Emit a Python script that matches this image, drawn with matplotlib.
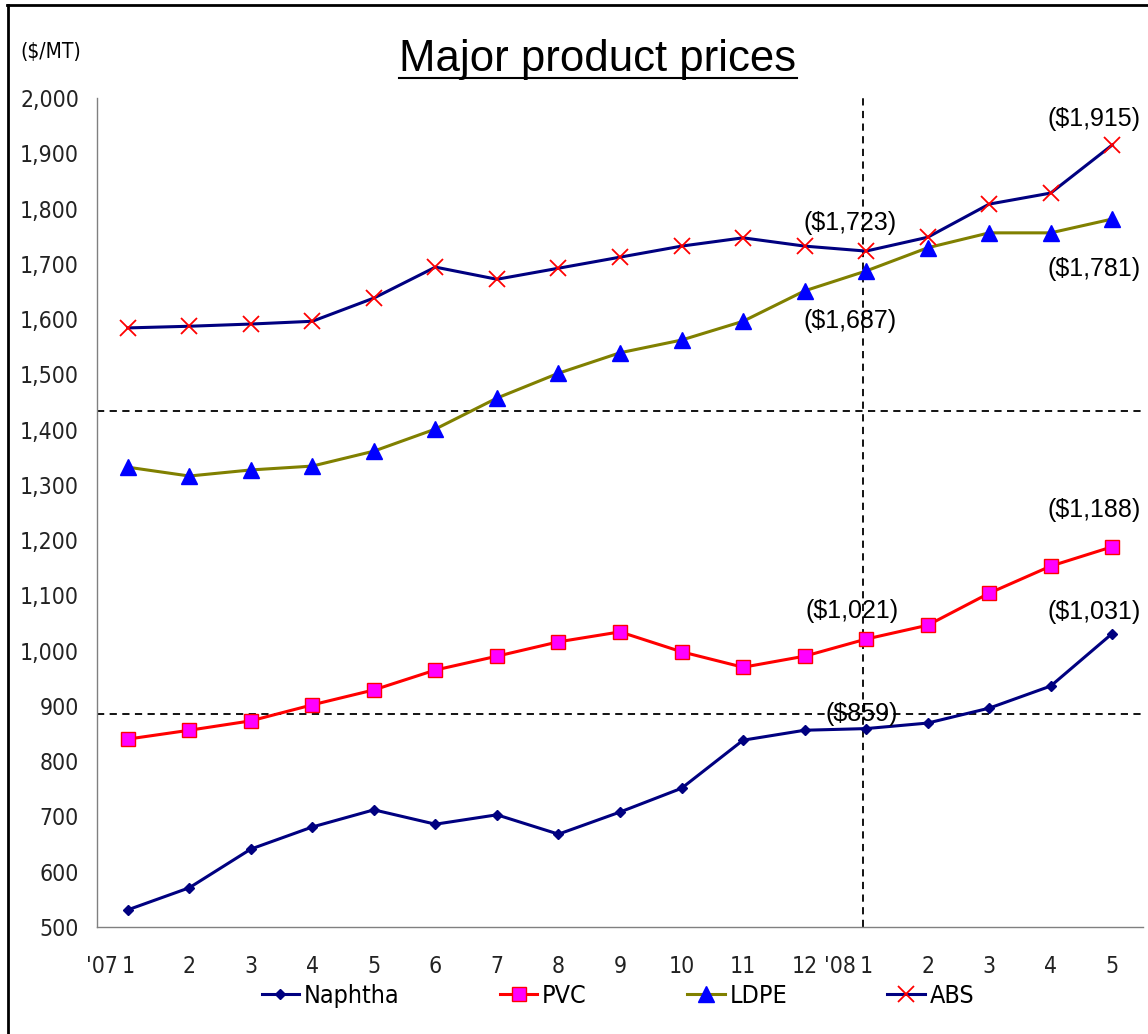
import matplotlib
matplotlib.use("Agg")
import matplotlib.pyplot as plt
from matplotlib.lines import Line2D
from matplotlib.transforms import ScaledTranslation, blended_transform_factory
from matplotlib import font_manager as fm

months = ["1", "2", "3", "4", "5", "6", "7", "8", "9", "10", "11", "12",
          "1", "2", "3", "4", "5"]
year_marks = {0: "'07", 12: "'08"}

naphtha = [531, 571, 641, 681, 712, 686, 703, 668, 708, 751, 838, 856,
           859, 869, 896, 936, 1031]
pvc = [840, 856, 873, 902, 929, 965, 990, 1016, 1034, 998, 970, 990,
       1021, 1046, 1104, 1153, 1188]
ldpe = [1332, 1316, 1327, 1334, 1361, 1401, 1457, 1502, 1539, 1562, 1596, 1651,
        1687, 1729, 1756, 1756, 1781]
abs_ = [1584, 1587, 1591, 1596, 1638, 1694, 1672, 1692, 1712, 1732, 1747, 1732,
        1723, 1748, 1808, 1828, 1915]

yticks = list(range(500, 2001, 100))
ref_lines = [1434, 885]
divider_index = 11.95

narrow = fm.FontProperties(family="DejaVu Sans", stretch="condensed", size=16.5)
regular = ["Liberation Sans", "DejaVu Sans"]

W, H = 1148, 1034
fig = plt.figure(figsize=(W / 100, H / 100), dpi=100)
ax = fig.add_axes([97 / W, (H - 927) / H, 1046 / W, (927 - 98) / H])

x = list(range(len(months)))
ax.plot(x, naphtha, color="#000080", lw=2.2, marker="D", ms=5.5,
        mfc="#000080", mec="#000080", label="Naphtha", zorder=3)
ax.plot(x, pvc, color="#FF0000", lw=2.2, marker="s", ms=10,
        mfc="#FF00FF", mec="#FF0000", mew=1, label="PVC", zorder=3)
ax.plot(x, ldpe, color="#808000", lw=2.2, marker="^", ms=12,
        mfc="#0000FF", mec="#0000FF", label="LDPE", zorder=3)
ax.plot(x, abs_, color="#000080", lw=2.2, marker="x", ms=12,
        mfc="#FF0000", mec="#FF0000", mew=1.3, label="ABS", zorder=3)

ax.set_xlim(-0.5, len(months) - 0.5)
ax.set_ylim(500, 2000)
ax.set_yticks(yticks)
ax.set_yticklabels([f"{v:,}" for v in yticks], fontproperties=narrow, color="#222222")
ax.set_xticks(x)
ax.set_xticklabels(months, fontproperties=narrow, color="#222222")
ax.tick_params(axis="both", length=0)
ax.tick_params(axis="y", pad=13)
ax.tick_params(axis="x", pad=20)
for s in ["top", "right"]:
    ax.spines[s].set_visible(False)
for s in ["left", "bottom"]:
    ax.spines[s].set_color("#808080")
    ax.spines[s].set_linewidth(1.0)

trans = blended_transform_factory(ax.transData, ax.transAxes)
for idx, yr in year_marks.items():
    ax.text(idx, 0, yr, transform=trans + ScaledTranslation(-10 / 100, -28 / 100, fig.dpi_scale_trans),
            ha="right", va="top", fontproperties=narrow, color="#222222")

for v in ref_lines:
    ax.axhline(v, color="black", lw=1.3, ls=(0, (4, 3)), zorder=2)
ax.axvline(divider_index, color="black", lw=1.3, ls=(0, (4, 3)), zorder=2)

def ann(idx, val, dx, dy):
    ax.annotate(f"(${val:,})", xy=(idx, val), xytext=(dx * 0.72, dy * 0.72),
                textcoords="offset points", ha="center", va="center",
                family=regular, fontsize=18, color="black", zorder=4)

last = len(months) - 1
ann(last, abs_[last], -18, 26)
ann(12, abs_[12], -16, 28)
ann(12, ldpe[12], -16, -50)
ann(last, ldpe[last], -18, -50)
ann(last, pvc[last], -18, 37)
ann(12, pvc[12], -14, 28)
ann(last, naphtha[last], -18, 22)
ann(12, naphtha[12], -4, 15)

unitprop = fm.FontProperties(family="DejaVu Sans", stretch="condensed", size=15)
fig.text(20 / W, 1 - 52 / H, "($/MT)", fontproperties=unitprop,
         ha="left", va="center")

t = fig.text(598 / W, 1 - 60 / H, "Major product prices", family=regular,
             fontsize=31.5, ha="center", va="center")

legprop = fm.FontProperties(family="DejaVu Sans", stretch="condensed", size=18)
leg = fig.legend(loc="center", bbox_to_anchor=(618 / W, 1 - 996 / H), ncol=4,
                 frameon=False, prop=legprop,
                 handlelength=1.5, handletextpad=0.2, columnspacing=4.0)

fig.add_artist(Line2D([8 / W, 8 / W], [0, 1 - 5 / H], color="black", lw=2,
                      transform=fig.transFigure))
fig.add_artist(Line2D([7 / W, 1], [1 - 5 / H, 1 - 5 / H], color="black", lw=2,
                      transform=fig.transFigure))

fig.canvas.draw()
bb = t.get_window_extent()
uy = (bb.y0 + 3) / H
fig.add_artist(Line2D([bb.x0 / W, bb.x1 / W], [uy, uy], color="black", lw=1.5,
                      transform=fig.transFigure))

fig.savefig("out.png", dpi=100)
